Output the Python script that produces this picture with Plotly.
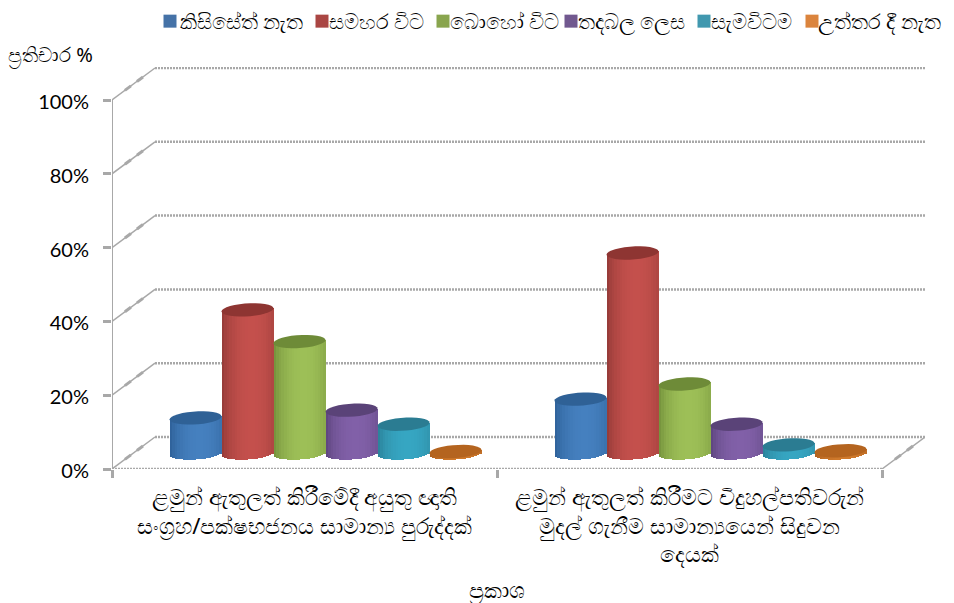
import math
import plotly.graph_objects as go

categories = ["ළමුන් ඇතුලත් කිරීමේදී අයුතු ඥාති<br>සංග්‍රහ/පක්ෂභජනය සාමාන්‍ය පුරුද්දක්",
              "ළමුන් ඇතුලත් කිරීමට විදුහල්පතිවරුන්<br>මුදල් ගැනීම සාමාන්‍යයෙන් සිදුවන<br>දෙයක්"]
series_names = ["කිසිසේත් නැත", "සමහර විට", "බොහෝ විට", "තදබල ලෙස", "සැමවිටම", "උත්තර දී නැත"]
never_vals = [9.5, 14.6]
sometimes_vals = [38.8, 54.2]
often_vals = [30.2, 18.7]
strongly_vals = [11.6, 7.8]
always_vals = [7.8, 2.2]
noanswer_vals = [0.4, 0.6]
series_vals = [never_vals, sometimes_vals, often_vals, strongly_vals, always_vals, noanswer_vals]
y_ticks = [0, 20, 40, 60, 80, 100]
y_ticktext = ["0%", "20%", "40%", "60%", "80%", "100%"]

legend_colors = ["#4572a7", "#aa4643", "#89a54e", "#71588f", "#4198af", "#db843d"]
legend_left_px = [163, 312, 433, 561, 694, 801]
legend_standoff = [10, 13, 13, 13, 13, 14]
edge_colors = ["#2b5d94", "#8f3835", "#6f8c38", "#594279", "#2a7d94", "#a85c1e"]
mid_colors = ["#4580bf", "#c4504c", "#9dbf57", "#8160a8", "#36a6c2", "#d07a2c"]
top_colors = ["#2f6196", "#8e3532", "#6e8b38", "#5a4378", "#2b7c92", "#b4641f"]

W, H = 954, 603
L, R, T, B = 112, 925, 67, 469
px_per_y = 3.69
px_per_x = 385.0
dx = 43 / px_per_x
dy = 32 / px_per_y
x_min = -0.5
x_max = x_min + (R - L) / px_per_x
y_max = (B - T) / px_per_y
x_front_end = 1.5
mid_dx = 21 / px_per_x
mid_dy = 16 / px_per_y
slot = 52 / px_per_x
half_w = 26 / px_per_x
ell_h = 6.5 / px_per_y
tilt = 1.6 / px_per_y
n_strips = 20
GRAY = "#a8a8a8"


def hex_rgb(c):
    return tuple(int(c[i:i + 2], 16) for i in (1, 3, 5))


def shade(edge, mid, u):
    t = max(0.0, 1 - ((u - 0.15) / 1.15) ** 2) ** 0.7
    a, b = hex_rgb(edge), hex_rgb(mid)
    return "rgb(%d,%d,%d)" % tuple(round(a[i] + (b[i] - a[i]) * t) for i in range(3))


fig = go.Figure()
shapes = []


def seg(x0, y0, x1, y1, width, dash="solid", layer="below"):
    shapes.append(dict(type="line", xref="x", yref="y", x0=x0, y0=y0, x1=x1, y1=y1, layer=layer,
                       line=dict(color=GRAY, width=width, dash=dash)))


def diagonal(x0, y0):
    seg(x0, y0, x0 + dx, y0 + dy, 1.5)
    for f in (0.3, 0.58):
        seg(x0 + dx * f, y0 + dy * f, x0 + dx * (f + 0.14), y0 + dy * (f + 0.14), 3)


# back wall, floor, side grid lines behind the bars
for t in y_ticks:
    seg(x_min + dx, t + dy, x_max, t + dy, 2.5, "2px,1px")
    diagonal(x_min, t)
diagonal(x_front_end, 0)
seg(x_min, 0, x_front_end, 0, 2.5, "2px,1px")
seg(x_min, 0, x_min, 100, 2)

# cylinder bodies built out of narrow bars
strip_w = 2 * half_w / n_strips
for s, vals in enumerate(series_vals):
    centre = (s - 2.5) * slot
    for k in range(n_strips):
        u = (k + 0.5) / n_strips * 2 - 1
        drop = ell_h * math.sqrt(1 - u * u) - tilt * u
        bases = [mid_dy - drop for _ in vals]
        heights = [v + drop + tilt * u for v in vals]
        fig.add_trace(go.Bar(
            x=[i + mid_dx + centre for i in range(len(vals))],
            y=heights, base=bases,
            width=strip_w * 1.15,
            offset=-half_w + k * strip_w,
            marker=dict(color=shade(edge_colors[s], mid_colors[s], u), line=dict(width=0)),
            showlegend=False, hoverinfo="skip"))
    for i, v in enumerate(vals):
        cx = i + mid_dx + centre
        cy = mid_dy + v
        pts = []
        for a in range(0, 360, 12):
            c, d = math.cos(math.radians(a)), math.sin(math.radians(a))
            pts.append((cx + half_w * c, cy + ell_h * d + tilt * c))
        path = "M " + " L ".join(f"{p[0]:.5f},{p[1]:.4f}" for p in pts) + " Z"
        shapes.append(dict(type="path", path=path, xref="x", yref="y", layer="above",
                           fillcolor=top_colors[s], line=dict(width=0)))

# legend entries, one small legend each so they sit on one row
legend_layouts = {}
for idx, (name, col, lx, so) in enumerate(zip(series_names, legend_colors, legend_left_px, legend_standoff)):
    key = "legend" if idx == 0 else f"legend{idx + 1}"
    fig.add_trace(go.Scatter(x=[None], y=[None], mode="markers", name=name, legend=key,
                             showlegend=True,
                             marker=dict(symbol="square", size=13, color=col, angle=90, standoff=so)))
    legend_layouts[key] = dict(
        x=(lx - 11 - L) / (R - L), xanchor="left",
        y=(B - 1) / (B - T), yanchor="top",
        font=dict(size=21, color="black"), itemwidth=30, indentation=-12,
        bgcolor="rgba(0,0,0,0)", borderwidth=0)

fig.update_layout(
    width=W, height=H, autosize=False,
    margin=dict(l=L, r=W - R, t=T, b=H - B, autoexpand=False),
    paper_bgcolor="white", plot_bgcolor="white",
    barmode="overlay", bargap=0, shapes=shapes,
    font=dict(family="Noto Sans, sans-serif", color="black"),
    xaxis=dict(range=[x_min, x_max], tickmode="array", tickvals=[0, 1], ticktext=categories,
               ticks="", showgrid=False, zeroline=False, showline=False,
               tickfont=dict(size=22, color="black"), ticklabelstandoff=13,
               minor=dict(tickmode="array", tickvals=[-0.5, 0.5, 1.5], ticks="outside",
                          ticklen=8, tickwidth=2.5, tickcolor=GRAY, showgrid=False)),
    yaxis=dict(range=[0, y_max], tickmode="array", tickvals=y_ticks, ticktext=y_ticktext,
               ticks="outside", ticklen=8, tickwidth=2.5, tickcolor=GRAY,
               showgrid=False, zeroline=False, showline=False, ticklabelstandoff=10,
               ticklabelshift=2,
               tickfont=dict(family="Lato, sans-serif", size=20, color="black")),
    annotations=[
        dict(text="ප්‍රතිචාර %", xref="paper", yref="paper",
             x=(5.5 - L) / (R - L), y=(B - 55) / (B - T),
             xanchor="left", yanchor="middle", showarrow=False, font=dict(size=20)),
        dict(text="ප්‍රකාශ", xref="paper", yref="paper",
             x=(497 - L) / (R - L), y=(B - 589) / (B - T),
             xanchor="center", yanchor="middle", showarrow=False, font=dict(size=22)),
    ],
    **legend_layouts,
)
fig.write_html("out.html", post_script="document.body.style.margin='0';",
               config={"displayModeBar": False})
